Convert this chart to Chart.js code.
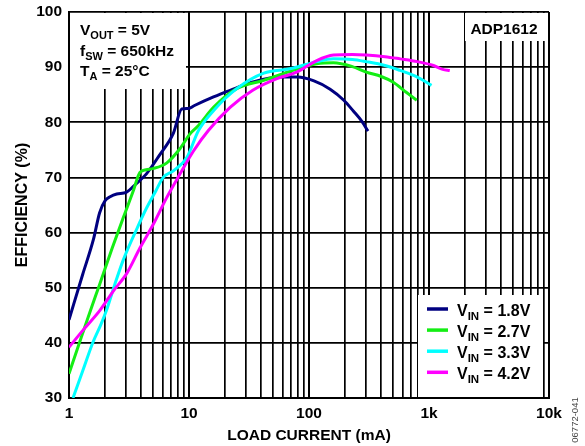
<!DOCTYPE html>
<html>
<head>
<meta charset="utf-8">
<script src="https://cdn.jsdelivr.net/npm/chart.js@4.4.1/dist/chart.umd.min.js"></script>
<style>
  html, body { margin: 0; padding: 0; background: #fff; }
</style>
</head>
<body>
<canvas id="eff-chart" width="585" height="446"></canvas>
<script>
// input voltages (legend) and load current / efficiency
const vinLabels = ['1.8V', '2.7V', '3.3V', '4.2V'];

const load18 = [1, 1.3, 1.6, 1.8, 2.0, 2.2, 2.5, 3.0, 3.6, 4.4, 5.7, 7.4, 8.7, 9.9, 11, 16, 22, 34, 57, 80, 110, 150, 195, 235, 275, 310];
const eff18  = [44.2, 52.4, 58.8, 63.6, 65.8, 66.5, 67.0, 67.3, 68.8, 70.6, 74.1, 78.0, 82.4, 82.5, 83.0, 84.6, 85.8, 87.3, 88.2, 88.2, 87.5, 86.0, 84.0, 82.0, 80.2, 78.4];

const load27 = [1, 1.23, 1.5, 1.8, 2.3, 2.8, 3.4, 3.9, 4.4, 5.0, 6.5, 8.4, 10.2, 12, 16, 25, 42, 69, 116, 160, 230, 300, 400, 500, 650, 790];
const eff27  = [34.4, 40.2, 45.7, 50.6, 57.3, 62.4, 67.3, 70.9, 71.4, 71.6, 72.6, 75.2, 77.9, 79.4, 82.7, 86.1, 87.6, 89.2, 90.6, 90.8, 90.1, 89.1, 88.3, 87.3, 85.4, 84.0];

const load33 = [1.08, 1.3, 1.59, 1.85, 2.06, 2.4, 2.83, 3.66, 4.44, 5.3, 6.1, 7.4, 9.6, 12, 16, 25, 42, 69, 116, 160, 230, 300, 430, 575, 800, 1050];
const eff33  = [30.0, 34.9, 40.2, 43.4, 46.0, 50.5, 55.0, 60.6, 64.5, 67.6, 70.0, 71.2, 73.6, 78.5, 82.1, 86.1, 88.9, 89.7, 91.0, 91.5, 91.4, 91.0, 90.3, 89.4, 88.2, 86.7];

const load42 = [1, 1.32, 1.81, 2.34, 3.03, 3.9, 5.04, 6.5, 8.4, 10.9, 14.5, 22, 34, 54, 79, 116, 160, 230, 300, 430, 575, 800, 1090, 1300, 1490];
const eff42  = [39.2, 42.4, 45.9, 49.4, 52.6, 57.2, 61.5, 66.3, 70.6, 74.8, 78.5, 82.7, 85.8, 87.9, 89.1, 91.2, 92.2, 92.3, 92.2, 91.9, 91.5, 91.0, 90.3, 89.6, 89.4];

// axis ticks
const xGridValues = [1,2,3,4,5,6,7,8,9, 10,20,30,40,50,60,70,80,90, 100,200,300,400,500,600,700,800,900, 1000,2000,3000,4000,5000,6000,7000,8000,9000, 10000];
const xTickLabels = { 1: '1', 10: '10', 100: '100', 1000: '1k', 10000: '10k' };
const yTickValues = [30, 40, 50, 60, 70, 80, 90, 100];

const lineColors = ['#000080', '#14ee14', '#00ffff', '#ff00ff'];
const FONT = "'Liberation Sans', Arial, Helvetica, sans-serif";

function toPoints(xs, ys) {
    return xs.map((x, i) => ({ x: x, y: ys[i] }));
}

// draws text where some parts are subscripts
function drawParts(ctx, x, y, parts, size, subSize) {
    parts.forEach(p => {
        const isSub = p[1];
        ctx.font = 'bold ' + (isSub ? subSize : size) + 'px ' + FONT;
        ctx.fillText(p[0], x, isSub ? y + 4 : y);
        x += ctx.measureText(p[0]).width;
    });
}

// white note boxes, conditions text, part number and legend
const notesPlugin = {
    id: 'notes',
    beforeDatasetsDraw(chart) {
        const ctx = chart.ctx;
        const a = chart.chartArea;
        ctx.save();
        ctx.fillStyle = '#fff';
        ctx.fillRect(a.left + 1, a.top + 1, 185 - a.left, 88 - a.top);   // conditions box
        ctx.fillRect(465, a.top + 1, a.right - 1 - 465, 40 - a.top);     // part number box
        ctx.fillRect(418, 295, 543 - 418, a.bottom - 1 - 295);           // legend box
        ctx.restore();
    },
    afterDatasetsDraw(chart) {
        const ctx = chart.ctx;
        ctx.save();
        ctx.fillStyle = '#000';
        ctx.textBaseline = 'alphabetic';
        ctx.textAlign = 'left';
        drawParts(ctx, 80, 35, [['V', false], ['OUT', true], [' = 5V', false]], 15.5, 11);
        drawParts(ctx, 80, 55.5, [['f', false], ['SW', true], [' = 650kHz', false]], 15.5, 11);
        drawParts(ctx, 80, 76, [['T', false], ['A', true], [' = 25°C', false]], 15.5, 11);

        ctx.font = 'bold 15.5px ' + FONT;
        ctx.textAlign = 'center';
        ctx.fillText('ADP1612', 504, 34);

        // legend
        ctx.textAlign = 'left';
        vinLabels.forEach((v, i) => {
            const base = 316 + 21.1 * i;
            ctx.strokeStyle = lineColors[i];
            ctx.lineWidth = 3.5;
            ctx.beginPath();
            ctx.moveTo(427, base - 7);
            ctx.lineTo(448, base - 7);
            ctx.stroke();
            drawParts(ctx, 457, base, [['V', false], ['IN', true], [' = ' + v, false]], 16, 11.5);
        });

        // figure id on the right edge
        ctx.font = '9.5px ' + FONT;
        ctx.fillStyle = '#444';
        ctx.translate(575, 420);
        ctx.rotate(-Math.PI / 2);
        ctx.textAlign = 'center';
        ctx.textBaseline = 'middle';
        ctx.fillText('06772-041', 0, 0);
        ctx.restore();
    }
};

const series = [
    [load18, eff18], [load27, eff27], [load33, eff33], [load42, eff42]
];

const ctx = document.getElementById('eff-chart').getContext('2d');
new Chart(ctx, {
    type: 'line',
    data: {
        datasets: series.map((s, i) => ({
            label: 'VIN = ' + vinLabels[i],
            data: toPoints(s[0], s[1]),
            borderColor: lineColors[i],
            backgroundColor: lineColors[i],
            borderWidth: 3,
            pointRadius: 0,
            fill: false,
            cubicInterpolationMode: 'monotone',
            order: series.length - i
        }))
    },
    options: {
        responsive: false,
        animation: false,
        layout: { padding: { top: 12, right: 36, bottom: 0, left: 0 } },
        plugins: {
            legend: { display: false },
            tooltip: { enabled: false }
        },
        scales: {
            x: {
                type: 'logarithmic',
                min: 1,
                max: 10000,
                afterBuildTicks: scale => { scale.ticks = xGridValues.map(v => ({ value: v })); },
                afterFit: scale => { scale.height = 48; },
                ticks: {
                    autoSkip: false,
                    maxRotation: 0,
                    padding: 6,
                    color: '#000',
                    font: { family: FONT, size: 15.5, weight: 'bold' },
                    callback: value => xTickLabels[value] || ''
                },
                grid: {
                    color: '#000',
                    drawTicks: false,
                    lineWidth: c => (xTickLabels[c.tick && c.tick.value] ? 2 : 1.7)
                },
                border: { display: true, color: '#000', width: 2 },
                title: {
                    display: true,
                    text: 'LOAD CURRENT (mA)',
                    color: '#000',
                    font: { family: FONT, size: 15.5, weight: 'bold' },
                    padding: { top: 0, bottom: 1 }
                }
            },
            y: {
                min: 30,
                max: 100,
                afterBuildTicks: scale => { scale.ticks = yTickValues.map(v => ({ value: v })); },
                afterFit: scale => {
                    scale.width = 69;
                    scale.paddingTop = 0;
                    scale.paddingBottom = 0;
                },
                ticks: {
                    padding: 7,
                    color: '#000',
                    font: { family: FONT, size: 15.5, weight: 'bold' }
                },
                grid: { color: '#000', drawTicks: false, lineWidth: 1.7 },
                border: { display: true, color: '#000', width: 2 },
                title: {
                    display: true,
                    text: 'EFFICIENCY (%)',
                    color: '#000',
                    font: { family: FONT, size: 16, weight: 'bold' },
                    padding: { top: 13, bottom: 0 }
                }
            }
        }
    },
    plugins: [notesPlugin]
});
</script>
</body>
</html>
